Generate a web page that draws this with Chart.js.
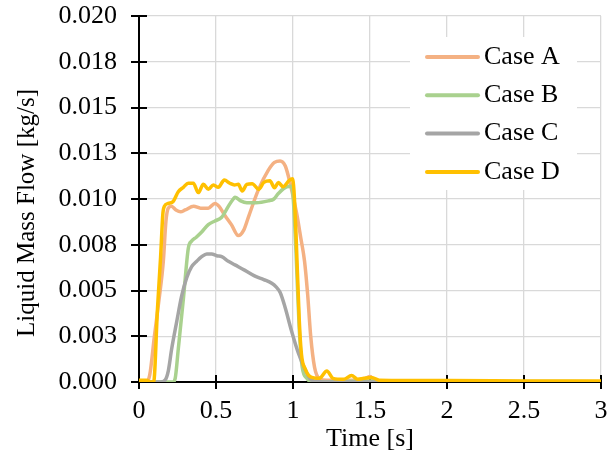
<!DOCTYPE html>
<html>
<head>
<meta charset="utf-8">
<script src="https://cdn.jsdelivr.net/npm/chart.js@4.4.1/dist/chart.umd.min.js"></script>
<style>
    html, body { margin: 0; padding: 0; background: #fff; }
    #wrap { width: 613px; height: 456px; position: relative; }
</style>
</head>
<body>
<div id="wrap"><canvas id="flowChart"></canvas></div>
<script>
// series (time in s, flow in kg/s)
var timeA = [0, 0.05, 0.07, 0.1, 0.13, 0.158, 0.175, 0.19, 0.21, 0.24, 0.27, 0.3, 0.355, 0.4, 0.45, 0.493, 0.52, 0.558, 0.6, 0.645, 0.68, 0.71, 0.775, 0.84, 0.88, 0.916, 0.95, 0.98, 1.024, 1.05, 1.075, 1.095, 1.115, 1.14, 1.17, 1.22, 1.3, 1.4, 1.47, 1.5, 1.53, 1.6, 2.0, 2.5, 3.0];
var caseA = [0, 0, 0.0004, 0.0025, 0.0045, 0.0066, 0.0088, 0.0095, 0.0096, 0.0094, 0.0093, 0.0094, 0.0096, 0.0095, 0.0095, 0.00976, 0.0096, 0.0091, 0.0086, 0.008, 0.0083, 0.009, 0.0105, 0.01158, 0.012, 0.01208, 0.0118, 0.0109, 0.0092, 0.0079, 0.0066, 0.0048, 0.0025, 0.0008, 0.0002, 0.0001, 0.0001, 0.0001, 0.0002, 0.0003, 0.0001, 0.00005, 0.00003, 0.00002, 0.00002];

var timeB = [0, 0.2, 0.22, 0.235, 0.255, 0.29, 0.32, 0.342, 0.37, 0.407, 0.45, 0.493, 0.537, 0.58, 0.612, 0.623, 0.66, 0.7, 0.76, 0.84, 0.876, 0.905, 0.959, 0.99, 1.0, 1.02, 1.04, 1.06, 1.09, 1.12, 1.5, 2.0, 3.0];
var caseB = [0, 0, 0, 0.0002, 0.0018, 0.0047, 0.0073, 0.0077, 0.0079, 0.0082, 0.0086, 0.0088, 0.009, 0.0096, 0.01, 0.0101, 0.0099, 0.0098, 0.0098, 0.0099, 0.01, 0.0103, 0.01067, 0.0107, 0.0102, 0.007, 0.003, 0.0008, 0.0002, 0, 0.00005, 0.00003, 0.00002];

var timeC = [0, 0.14, 0.169, 0.19, 0.212, 0.245, 0.277, 0.31, 0.342, 0.375, 0.407, 0.44, 0.472, 0.505, 0.537, 0.58, 0.623, 0.688, 0.75, 0.81, 0.862, 0.89, 0.916, 0.948, 0.99, 1.034, 1.078, 1.12, 1.2, 1.5, 2.0, 3.0];
var caseC = [0, 0, 0.0001, 0.0006, 0.0018, 0.0033, 0.0047, 0.0057, 0.0063, 0.0066, 0.00685, 0.007, 0.007, 0.0069, 0.00685, 0.0066, 0.0064, 0.0061, 0.0058, 0.0056, 0.0054, 0.0052, 0.0049, 0.0041, 0.0028, 0.0016, 0.0007, 0.0001, 0, 0, 0, 0];

var timeD = [0, 0.05, 0.075, 0.095, 0.12, 0.14, 0.155, 0.165, 0.19, 0.22, 0.255, 0.288, 0.32, 0.353, 0.385, 0.418, 0.45, 0.483, 0.515, 0.554, 0.59, 0.62, 0.645, 0.67, 0.7, 0.735, 0.778, 0.81, 0.85, 0.88, 0.905, 0.935, 0.974, 0.996, 1.006, 1.02, 1.04, 1.055, 1.08, 1.11, 1.17, 1.22, 1.26, 1.33, 1.38, 1.42, 1.46, 1.51, 1.56, 2.0, 2.5, 3.0];
var caseD = [0.0001, 0.0001, 0, 0, 0.004, 0.0068, 0.0092, 0.0096, 0.00976, 0.00985, 0.0104, 0.01064, 0.01086, 0.01086, 0.01035, 0.0108, 0.01053, 0.01077, 0.01064, 0.01104, 0.01086, 0.01077, 0.0108, 0.01044, 0.0108, 0.01084, 0.01053, 0.0109, 0.011, 0.01062, 0.0109, 0.01067, 0.011, 0.0111, 0.0105, 0.008, 0.0035, 0.0015, 0.0007, 0.0003, 0.0002, 0.0006, 0.0002, 0.00015, 0.00035, 0.00015, 0.0002, 0.00025, 0.0001, 0.00008, 0.00006, 0.00005];

var seriesNames = ['Case A', 'Case B', 'Case C', 'Case D'];
var seriesColors = ['#F4B183', '#A9D18E', '#A5A5A5', '#FFC000'];

var xTickValues = [0, 0.5, 1, 1.5, 2, 2.5, 3];
var xTickLabels = ['0', '0.5', '1', '1.5', '2', '2.5', '3'];
var yTickValues = [0, 0.0025, 0.005, 0.0075, 0.01, 0.0125, 0.015, 0.0175, 0.02];
var yTickLabels = ['0.000', '0.003', '0.005', '0.008', '0.010', '0.013', '0.015', '0.018', '0.020'];

var serif = '"Liberation Serif", "Times New Roman", serif';

function toPoints(t, v) {
    return t.map(function(x, i) { return {x: x, y: v[i]}; });
}

// excel look: ticks crossing the axes, legend box inside the plot, y title
var excelBits = {
    id: 'excelBits',
    beforeDatasetsDraw: function(chart) {
        var ctx = chart.ctx, a = chart.chartArea;
        var xs = chart.scales.x, ys = chart.scales.y;
        ctx.save();
        ctx.strokeStyle = '#000';
        ctx.lineWidth = 2;
        ctx.beginPath();
        yTickValues.forEach(function(v) {
            var py = Math.round(ys.getPixelForValue(v));
            ctx.moveTo(a.left - 8, py);
            ctx.lineTo(a.left + 8, py);
        });
        xTickValues.forEach(function(v) {
            var px = Math.round(xs.getPixelForValue(v));
            ctx.moveTo(px, a.bottom - 7);
            ctx.lineTo(px, a.bottom + 7);
        });
        ctx.stroke();
        ctx.restore();
    },
    afterDatasetsDraw: function(chart) {
        var ctx = chart.ctx;
        ctx.save();
        ctx.fillStyle = '#fff';
        ctx.fillRect(410, 37, 167, 153);
        ctx.font = '26px ' + serif;
        ctx.textBaseline = 'middle';
        ctx.textAlign = 'left';
        chart.data.datasets.forEach(function(ds, i) {
            var y = 57 + i * 38.3;
            ctx.strokeStyle = ds.borderColor;
            ctx.lineWidth = 4;
            ctx.lineCap = 'round';
            ctx.beginPath();
            ctx.moveTo(427, y);
            ctx.lineTo(478, y);
            ctx.stroke();
            ctx.fillStyle = '#000';
            ctx.fillText(ds.label, 484, y);
        });
        ctx.restore();
    },
    afterDraw: function(chart) {
        var ctx = chart.ctx;
        ctx.save();
        ctx.translate(27, 213);
        ctx.rotate(-Math.PI / 2);
        ctx.font = '25px ' + serif;
        ctx.fillStyle = '#000';
        ctx.textAlign = 'center';
        ctx.textBaseline = 'middle';
        ctx.fillText('Liquid Mass Flow [kg/s]', 0, 0);
        ctx.restore();
    }
};

document.addEventListener('DOMContentLoaded', function() {
    var times = [timeA, timeB, timeC, timeD];
    var flows = [caseA, caseB, caseC, caseD];

    var datasets = seriesNames.map(function(name, i) {
        return {
            label: name,
            data: toPoints(times[i], flows[i]),
            borderColor: seriesColors[i],
            borderWidth: 3.5,
            pointRadius: 0,
            fill: false,
            cubicInterpolationMode: 'monotone',
            order: 4 - i
        };
    });

    var ctx = document.getElementById('flowChart').getContext('2d');
    var flowChart = new Chart(ctx, {
        type: 'line',
        data: { datasets: datasets },
        plugins: [excelBits],
        options: {
            responsive: true,
            maintainAspectRatio: false,
            animation: false,
            layout: { padding: { top: 16, right: 12, left: 0, bottom: 0 } },
            scales: {
                x: {
                    type: 'linear',
                    min: 0,
                    max: 3,
                    afterBuildTicks: function(s) { s.ticks = xTickValues.map(function(v) { return {value: v}; }); },
                    afterFit: function(s) {
                        s.height = 74;
                        s.paddingLeft = 0;
                        s.paddingRight = 0;
                    },
                    grid: { color: '#d9d9d9', lineWidth: 1.3, drawTicks: false },
                    border: { color: '#000', width: 2 },
                    ticks: {
                        padding: 14,
                        color: '#000',
                        maxRotation: 0,
                        font: { family: serif, size: 26, lineHeight: 1.2 },
                        callback: function(v, i) { return xTickLabels[i]; }
                    },
                    title: {
                        display: true,
                        text: 'Time [s]',
                        color: '#000',
                        font: { family: serif, size: 26, lineHeight: 1.2 },
                        padding: { top: 0, bottom: 1 }
                    }
                },
                y: {
                    min: 0,
                    max: 0.02,
                    afterBuildTicks: function(s) { s.ticks = yTickValues.map(function(v) { return {value: v}; }); },
                    afterFit: function(s) {
                        s.width = 139;
                        s.paddingTop = 0;
                        s.paddingBottom = 0;
                    },
                    grid: { color: '#d9d9d9', lineWidth: 1.3, drawTicks: false },
                    border: { color: '#000', width: 2 },
                    ticks: {
                        padding: 22,
                        color: '#000',
                        font: { family: serif, size: 26, lineHeight: 1.2 },
                        callback: function(v, i) { return yTickLabels[i]; }
                    }
                }
            },
            plugins: {
                legend: { display: false },
                tooltip: { enabled: false }
            }
        }
    });
});
</script>
</body>
</html>
